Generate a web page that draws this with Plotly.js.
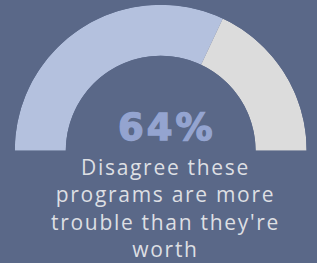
<!DOCTYPE html>
<html>
<head>
<meta charset="utf-8">
<script src="https://cdn.plot.ly/plotly-3.0.1.min.js"></script>
<style>html,body{margin:0;padding:0;background:#5a6888;overflow:hidden}#chart{width:317px;height:263px}</style>
</head>
<body>
<div id="chart"></div>
<script>
const categories = ["Disagree", "Agree"];
const values = [64, 36];
const colors = ["#b4c1de", "#dcdcdc"];
const headline = "64%";
const captionLines = ["Disagree these", "programs are more", "trouble than they're", "worth"];

const total = values.reduce((a, b) => a + b, 0);
let acc = 0;
const theta = [], width = [];
values.forEach(v => {
  const w = v / total * 180;
  theta.push(acc + w / 2);
  width.push(w);
  acc += w;
});

const W = 317, H = 263;
const cx = 160.7, cyTop = 150.7, R = 146;
const textX = 166;
const trace = {
  type: "barpolar",
  r: values.map(() => 1),
  theta: theta,
  width: width,
  text: categories,
  marker: { color: colors, line: { width: 0 } },
  hoverinfo: "text",
  showlegend: false
};
const annotations = [
  { text: '<span style="letter-spacing:3px;stroke:#94a4d0;stroke-width:1.4px"><b>' + headline + '</b></span>',
    xref: "paper", yref: "paper", x: (textX + 1) / W, y: 1 - 128 / H,
    xanchor: "center", yanchor: "middle", showarrow: false,
    font: { family: "DejaVu Sans", size: 37, color: "#94a4d0" } },
  { text: captionLines.map(t => '<span style="letter-spacing:1.7px">' + t + '</span>').join("<br>"),
    xref: "paper", yref: "paper", x: (textX - 0.5) / W, y: 1 - 152 / H,
    xanchor: "center", yanchor: "top", showarrow: false, align: "center", borderpad: 0,
    font: { family: "Open Sans", size: 21, color: "#dddfe3" } }
];
const layout = {
  width: W, height: H,
  margin: { l: 0, r: 0, t: 0, b: 0 },
  paper_bgcolor: "#5a6888",
  plot_bgcolor: "#5a6888",
  polar: {
    domain: { x: [(cx - R) / W, (cx + R) / W], y: [(H - cyTop) / H, (H - cyTop + R) / H] },
    sector: [0, 180],
    hole: 0.65,
    bgcolor: "rgba(0,0,0,0)",
    radialaxis: { range: [0, 1], visible: false, showgrid: false, showline: false, showticklabels: false },
    angularaxis: { rotation: 180, direction: "clockwise", range: [0, 180], visible: false, showgrid: false, showline: false, showticklabels: false, ticks: "" }
  },
  annotations: annotations
};
Plotly.newPlot("chart", [trace], layout, { displayModeBar: false, staticPlot: true });
</script>
</body>
</html>
